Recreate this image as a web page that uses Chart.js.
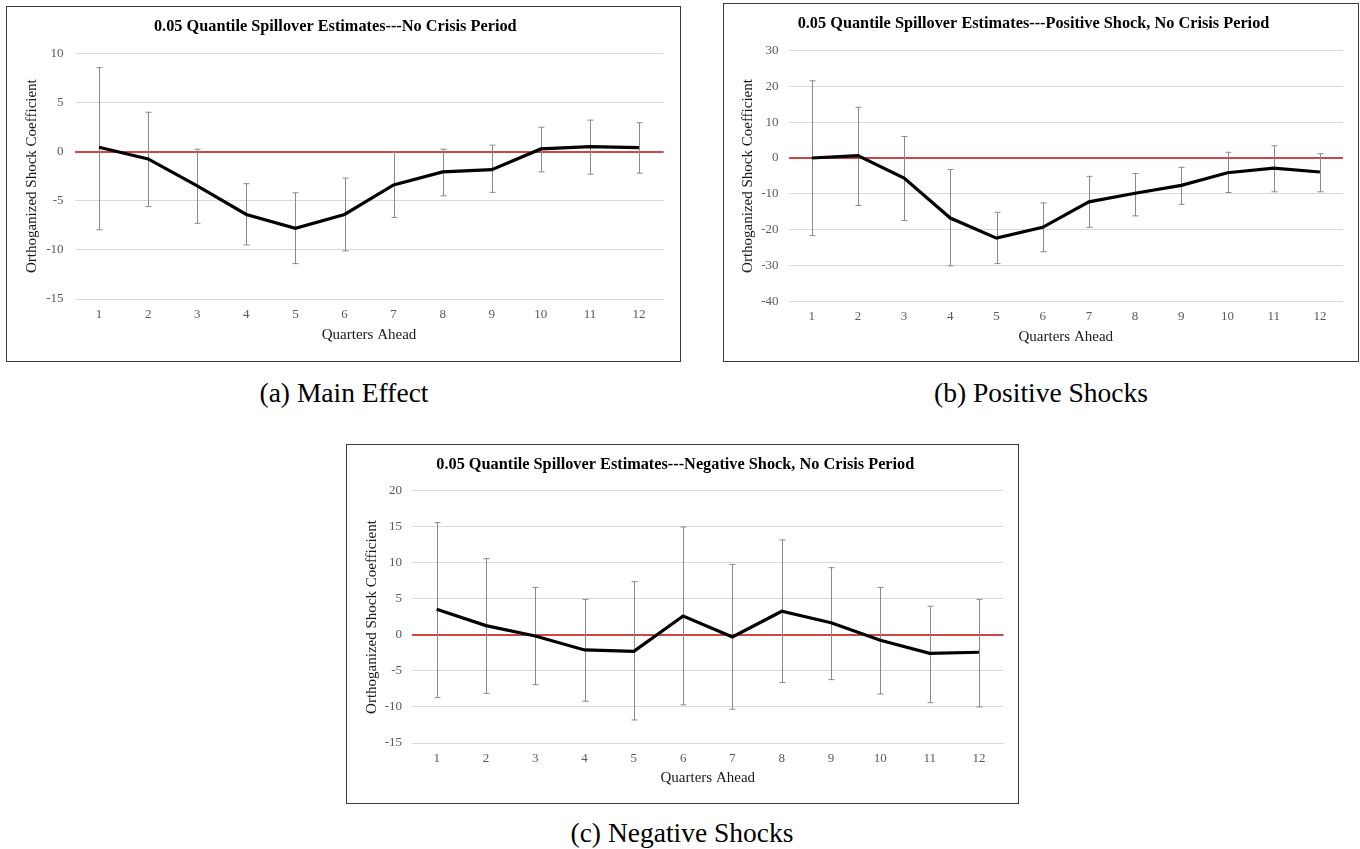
<!DOCTYPE html>
<html>
<head>
<meta charset="utf-8">
<script src="https://cdn.jsdelivr.net/npm/chart.js@4.4.1/dist/chart.umd.min.js"></script>
<style>
  html, body { margin: 0; padding: 0; background: #ffffff; }
  body { width: 1360px; height: 849px; position: relative; overflow: hidden; }
  .box { position: absolute; border: 1px solid #3c3c3c; background: #fff; }
  .box canvas { display: block; }
  .cap { position: absolute; font-family: 'Liberation Serif', serif; font-size: 27.5px; color: #000; text-align: center; white-space: nowrap; transform: translate(-50%, -50%); }
</style>
</head>
<body>
<div class="box" id="boxA" style="left:6px; top:6px; width:673px; height:354px;"><canvas id="cA" width="673" height="354"></canvas></div>
<div class="box" id="boxB" style="left:723px; top:3px; width:634px; height:357px;"><canvas id="cB" width="634" height="357"></canvas></div>
<div class="box" id="boxC" style="left:346px; top:444px; width:671px; height:358px;"><canvas id="cC" width="671" height="358"></canvas></div>
<div class="cap" style="left:344px; top:393px;">(a) Main Effect</div>
<div class="cap" style="left:1041px; top:393px;">(b) Positive Shocks</div>
<div class="cap" style="left:682px; top:833px;">(c) Negative Shocks</div>
<script>
// ---------- DATA ----------
const quarters = ['1','2','3','4','5','6','7','8','9','10','11','12'];

const titleA = '0.05 Quantile Spillover Estimates---No Crisis Period';
const mainEst   = [0.44, -0.75, -3.5, -6.4, -7.8, -6.4, -3.4, -2.07, -1.84, 0.27, 0.51, 0.40];
const mainUpper = [8.54, 4.0, 0.24, -3.27, -4.2, -2.7, -0.07, 0.24, 0.65, 2.48, 3.2, 2.93];
const mainLower = [-7.96, -5.6, -7.3, -9.5, -11.4, -10.1, -6.7, -4.5, -4.15, -2.07, -2.3, -2.2];
const mainTicks = [-15, -10, -5, 0, 5, 10];

const titleB = '0.05 Quantile Spillover Estimates---Positive Shock, No Crisis Period';
const posEst   = [0, 0.65, -5.6, -16.7, -22.3, -19.3, -12.2, -9.8, -7.6, -4.1, -2.8, -3.9];
const posUpper = [21.5, 14.1, 6.0, -3.2, -15.1, -12.5, -5.1, -4.3, -2.6, 1.6, 3.4, 1.2];
const posLower = [-21.6, -13.2, -17.4, -30.0, -29.4, -26.1, -19.3, -16.1, -12.9, -9.6, -9.4, -9.4];
const posTicks = [-40, -30, -20, -10, 0, 10, 20, 30];

const titleC = '0.05 Quantile Spillover Estimates---Negative Shock, No Crisis Period';
const negEst   = [3.56, 1.3, -0.14, -2.08, -2.27, 2.64, -0.28, 3.29, 1.7, -0.74, -2.55, -2.4];
const negUpper = [15.6, 10.6, 6.6, 4.95, 7.4, 15.0, 9.8, 13.2, 9.35, 6.6, 4.0, 4.95];
const negLower = [-8.7, -8.1, -6.9, -9.2, -11.8, -9.7, -10.3, -6.6, -6.2, -8.2, -9.4, -10.0];
const negTicks = [-15, -10, -5, 0, 5, 10, 15, 20];

const yAxisTitle = 'Orthoganized Shock Coefficient';
const xAxisTitle = 'Quarters Ahead';

// ---------- RENDERING ----------
Chart.defaults.font.family = "'Liberation Serif', 'Times New Roman', serif";
Chart.defaults.animation = false;

const ZERO_RED = '#d04545';

const errorBars = {
  id: 'errorBars',
  beforeDatasetsDraw(chart, args, opts) {
    const xs = chart.scales.x, ys = chart.scales.y, ctx = chart.ctx;
    ctx.save();
    ctx.strokeStyle = '#8a8a8a';
    ctx.lineWidth = 1;
    opts.upper.forEach((u, i) => {
      const x = Math.round(xs.getPixelForValue(i)) + 0.5;
      const yu = ys.getPixelForValue(u);
      const yl = ys.getPixelForValue(opts.lower[i]);
      ctx.beginPath();
      ctx.moveTo(x, yu); ctx.lineTo(x, yl);
      ctx.moveTo(x - 3, yu); ctx.lineTo(x + 3, yu);
      ctx.moveTo(x - 3, yl); ctx.lineTo(x + 3, yl);
      ctx.stroke();
    });
    ctx.restore();
  }
};

function makeChart(id, title, est, upper, lower, ticks, g) {
  const tmin = ticks[0], tmax = ticks[ticks.length - 1];
  const isZero = c => c.tick && Number(c.tick.value) === 0;
  return new Chart(document.getElementById(id), {
    type: 'line',
    data: {
      labels: quarters,
      datasets: [{
        data: est,
        borderColor: '#000000',
        borderWidth: 3.2,
        pointRadius: 0,
        tension: 0,
        fill: false
      }]
    },
    options: {
      responsive: false,
      layout: { padding: { left: 0, right: g.right, top: 0, bottom: 0 } },
      plugins: {
        legend: { display: false },
        tooltip: { enabled: false },
        title: {
          display: true,
          text: title,
          color: '#000000',
          font: { size: 16.3, weight: 'bold' },
          padding: { top: g.titleTop, bottom: g.titleBottom }
        },
        errorBars: { upper: upper, lower: lower }
      },
      scales: {
        x: {
          offset: true,
          border: { display: false },
          grid: { display: false, drawTicks: false },
          ticks: { color: '#595959', font: { size: 13 }, padding: g.xPad, maxRotation: 0 },
          title: { display: true, text: xAxisTitle, color: '#1a1a1a', font: { size: 15 }, padding: { top: 0, bottom: g.xTitleBottom } },
          afterFit(s) { s.height = g.xH; }
        },
        y: {
          min: tmin, max: tmax,
          afterBuildTicks(s) { s.ticks = ticks.map(v => ({ value: v })); },
          border: { display: false },
          grid: {
            drawTicks: false,
            lineWidth: c => isZero(c) ? 2 : 1,
            color: c => isZero(c) ? ZERO_RED : '#d9d9d9'
          },
          ticks: { color: '#595959', font: { size: 13 }, padding: g.yPad },
          title: { display: true, text: yAxisTitle, color: '#1a1a1a', font: { size: 15 }, padding: { top: g.yTitleLeft, bottom: 0 } },
          afterFit(s) { s.width = g.yW; }
        }
      }
    },
    plugins: [errorBars]
  });
}

makeChart('cA', titleA, mainEst, mainUpper, mainLower, mainTicks,
  { right: 16.4, titleTop: 10.4, titleBottom: 16.3, xH: 62, xPad: 8, xTitleBottom: 17, yW: 67.5, yPad: 11, yTitleLeft: 16 });
makeChart('cB', titleB, posEst, posUpper, posLower, posTicks,
  { right: 15, titleTop: 10.4, titleBottom: 16.3, xH: 59.3, xPad: 7, xTitleBottom: 15, yW: 64.6, yPad: 10, yTitleLeft: 15 });
makeChart('cC', titleC, negEst, negUpper, negLower, negTicks,
  { right: 14.4, titleTop: 10.4, titleBottom: 16, xH: 60, xPad: 8, xTitleBottom: 16, yW: 65, yPad: 10, yTitleLeft: 16 });
</script>
</body>
</html>
